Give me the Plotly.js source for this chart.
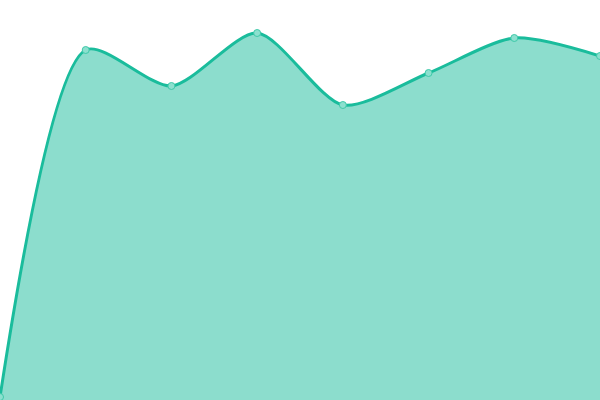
<!DOCTYPE html>
<html>
<head>
<meta charset="utf-8">
<script src="https://cdn.plot.ly/plotly-3.0.1.min.js"></script>
<style>
  html, body { margin: 0; padding: 0; background: #fff; }
  #chart { width: 600px; height: 400px; }
</style>
</head>
<body>
<div id="chart"></div>
<script>
var puntosX = [0, 1, 2, 3, 4, 5, 6, 7]
var valores = [3, 350, 314, 367, 295, 327, 362, 344]

var area = {
    x: puntosX,
    y: valores,
    mode: 'lines+markers',
    type: 'scatter',
    fill: 'tozeroy',
    fillcolor: 'rgba(26,188,156,0.5)',
    line: {
        shape: 'spline',
        smoothing: 0.75,
        color: '#1abc9c',
        width: 3
    },
    marker: {
        size: 7,
        color: '#8ce0cf',
        line: { color: '#3fc9a9', width: 1 }
    },
    hoverinfo: 'none'
};

var layout = {
    margin: { l: 0, r: 0, t: 0, b: 0 },
    showlegend: false,
    paper_bgcolor: '#fff',
    plot_bgcolor: '#fff',
    xaxis: { range: [0, 7], visible: false, fixedrange: true },
    yaxis: { range: [0, 400], visible: false, fixedrange: true }
};

Plotly.newPlot('chart', [area], layout, { displayModeBar: false, staticPlot: true });
</script>
</body>
</html>
